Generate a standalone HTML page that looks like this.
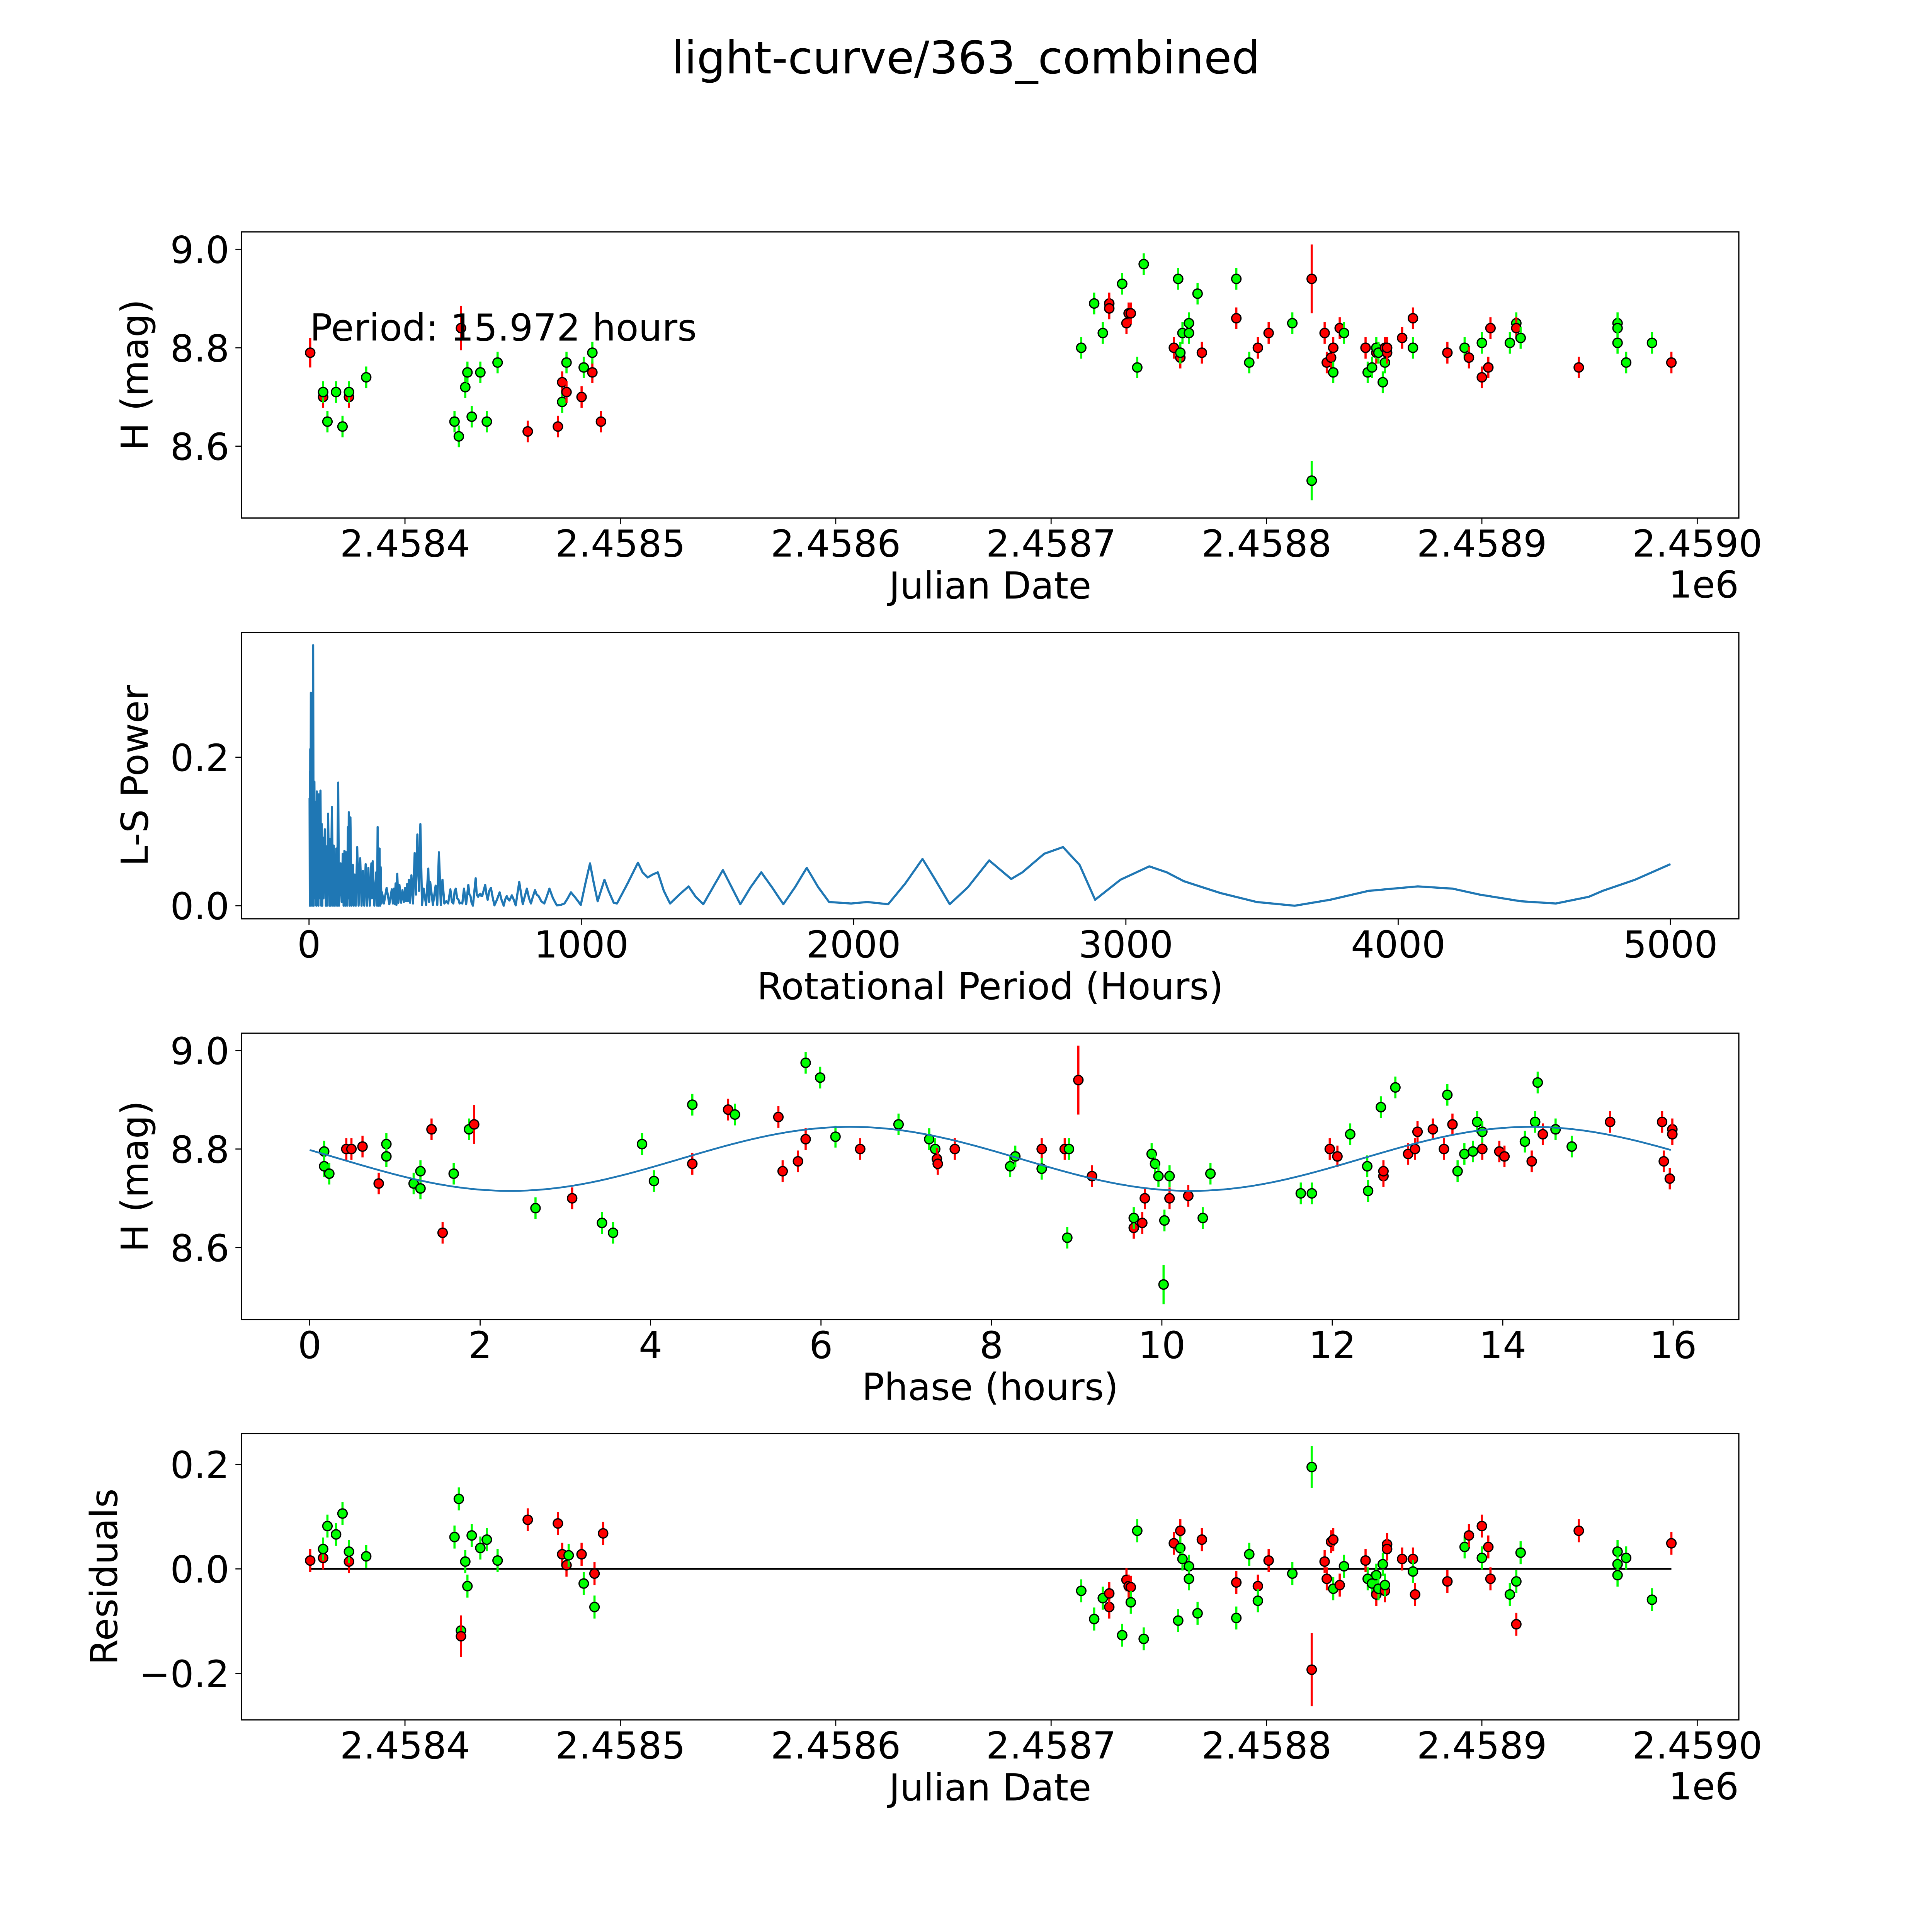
<!DOCTYPE html>
<html><head><meta charset="utf-8"><style>
html,body{margin:0;padding:0;background:#fff;width:100%;height:100%;overflow:hidden;}
svg{display:block;width:100vw;height:100vh;}
text{font-family:"DejaVu Sans","Liberation Sans",sans-serif;fill:#000;}
</style></head>
<body>
<svg id="fig" xmlns="http://www.w3.org/2000/svg" viewBox="0 0 5400 5400" preserveAspectRatio="xMidYMid meet">
<rect x="0" y="0" width="5400" height="5400" fill="#fff"/>
<text x="2700" y="205" font-size="126" text-anchor="middle">light-curve/363_combined</text>
<g id="p1"></g>
<g id="p2"></g>
<g id="p3"></g>
<g id="p4"></g>
</svg>
<script>
// ---- Panel 1: light curve (JD offset from 2458400) ----
const lcJd = [-44,-38,-38,-36,-32,-29,-26,-26,-18,23,25,26,28,29,31,35,38,43,57,71,73,73,75,75,82,83,87,87,91,
314,320,324,327,327,333,335,336,337,340,343,357,359,360,360,361,364,364,368,370,386,386,392,396,401,412,421,421,427,428,430,431,431,434,436,446,447,449,451,451,452,454,455,455,456,456,463,468,468,484,492,494,500,500,503,504,513,516,516,518,545,563,563,563,567,579,588];
const lcMag = [8.79,8.70,8.71,8.65,8.71,8.64,8.70,8.71,8.74,8.65,8.62,8.84,8.72,8.75,8.66,8.75,8.65,8.77,8.63,8.64,8.73,8.69,8.71,8.77,8.70,8.76,8.75,8.79,8.65,
8.80,8.89,8.83,8.89,8.88,8.93,8.85,8.87,8.87,8.76,8.97,8.80,8.94,8.78,8.79,8.83,8.85,8.83,8.91,8.79,8.94,8.86,8.77,8.80,8.83,8.85,8.94,8.53,8.83,8.77,8.78,8.75,8.80,8.84,8.83,8.80,8.75,8.76,8.79,8.80,8.79,8.73,8.80,8.77,8.79,8.80,8.82,8.86,8.80,8.79,8.80,8.78,8.74,8.81,8.76,8.84,8.81,8.85,8.84,8.82,8.76,8.85,8.84,8.81,8.77,8.81,8.77];
const lcBand = "rrggggrgg" + "ggrgggggg" + "rrrgrgrgrgr" +
  "gggrrgrrrg" + "grgrgggggr" + "grgrrgrgrr" + "rgrrgrggrg" + "ggrgrrrrgr" + "grrgrrggrg" + "rgggggr";
const lcBigErr = [[11,0.045],[55,0.07],[56,0.04],[0,0.03]];

// ---- Panel 2: Lomb-Scargle periodogram [period hours, power] ----
const lsPairs = [[2,0.145],[3,0],[3.5,0.181],[4,0],[4.5,0.211],[5.5,0.02],[6.8,0.287],[8,0.02],[10,0.2],[11,0],[15,0.351],[17,0],[19.6,0.167],[22,0.01],[25,0.14],[27,0],[28.7,0.154],[31,0.01],[33,0.12],[34.5,0],[36,0.15],[38,0.01],[42,0.155],[45,0],[47,0.11],[48.5,0],[50,0.092],[53,0.01],[58,0.103],[62,0],[64,0.08],[66,0],[70,0.124],[75,0],[78,0.09],[80,0],[84,0.133],[88,0],[91,0.081],[95,0],[100,0.077],[103,0],[107,0.166],[110,0],[116,0.057],[120,0.005],[124,0.07],[127,0],[130,0.074],[133,0],[136,0.072],[140,0],[143,0.106],[144.5,0.01],[146,0.126],[149,0],[152,0.119],[156,0],[161,0.055],[164,0],[168,0.042],[172,0],[177,0.079],[182,0],[186,0.055],[188,0.064],[193,0],[198,0.047],[203,0],[208,0.056],[213,0],[218,0.051],[223,0],[229,0.057],[231,0.01],[234,0.06],[240,0],[247,0.045],[250,0],[252,0.106],[255,0],[259,0.077],[261,0],[263,0.052],[266,0.003],[268,0.018],[275,0.003],[285,0.024],[295,0.002],[304,0.022],[308,0.003],[312,0.023],[315,0.002],[318,0.03],[321,0.001],[324,0.043],[328,0.004],[332,0.028],[338,0.004],[343,0.021],[348,0.005],[353,0.024],[356,0.006],[360,0.029],[363,0.006],[367,0.035],[371,0.004],[376,0.041],[382,0.003],[388,0.071],[393,0.015],[398,0.096],[404,0.02],[409,0.11],[415,0.001],[421,0.023],[430,0.001],[438,0.05],[441,0.005],[445,0.032],[455,0.001],[465,0.027],[471,0.001],[477,0.072],[484,0.001],[490,0.035],[497,0.003],[504,0.006],[511,0.003],[519,0.022],[525,0.005],[530,0.003],[535,0.02],[539,0.023],[544,0.01],[549,0.008],[553,0.003],[557,0.004],[563,0.003],[569,0.023],[577,0.002],[585,0.028],[589,0.015],[593,0.013],[597,0.004],[602,0.0],[612,0.037],[616,0.015],[621,0.012],[625,0.015],[630,0.016],[633,0.013],[636,0.013],[641,0.02],[647,0.028],[652,0.015],[656,0.008],[662,0.02],[668,0.024],[674,0.012],[681,0.0005],[690,0.008],[700,0.018],[707,0.008],[715,0.0],[720,0.008],[726,0.013],[731,0.009],[736,0.007],[740,0.01],[745,0.014],[752,0.008],[759,0.0005],[765,0.015],[772,0.032],[778,0.018],[785,0.002],[792,0.012],[800,0.023],[808,0.01],[815,0.003],[822,0.012],[830,0.021],[836,0.015],[843,0.013],[853,0.006],[864,0.003],[873,0.012],[883,0.023],[896,0.01],[910,0.0005],[924,0.001],[938,0.003],[950,0.01],[962,0.018],[980,0.01],[998,0.001],[1015,0.03],[1032,0.057],[1046,0.03],[1060,0.006],[1072,0.02],[1085,0.035],[1100,0.02],[1119,0.004],[1131,0.003],[1170,0.03],[1208,0.058],[1225,0.045],[1244,0.038],[1262,0.042],[1281,0.045],[1303,0.02],[1326,0.003],[1360,0.015],[1394,0.026],[1420,0.012],[1448,0.002],[1484,0.025],[1520,0.048],[1552,0.025],[1584,0.002],[1622,0.025],[1661,0.045],[1700,0.025],[1742,0.002],[1785,0.025],[1828,0.051],[1870,0.025],[1910,0.005],[1950,0.004],[1991,0.003],[2050,0.005],[2127,0.002],[2190,0.03],[2253,0.063],[2300,0.035],[2353,0.002],[2420,0.025],[2498,0.061],[2540,0.048],[2579,0.036],[2620,0.045],[2700,0.07],[2769,0.079],[2830,0.055],[2887,0.008],[2980,0.035],[3086,0.053],[3150,0.045],[3213,0.033],[3280,0.025],[3348,0.017],[3480,0.005],[3620,0.0],[3750,0.008],[3891,0.02],[4072,0.026],[4200,0.023],[4299,0.015],[4450,0.006],[4579,0.003],[4700,0.012],[4751,0.02],[4870,0.035],[5000,0.056]];
const lsPeriods = lsPairs.map(p => p[0]);
const lsPowers = lsPairs.map(p => p[1]);

// ---- Panel 3: phase folded ----
const phPhase = [0.17,0.17,0.23,0.43,0.49,0.62,0.81,0.90,0.90,1.22,1.30,1.30,1.43,1.56,1.69,1.87,1.93,2.65,3.08,3.43,3.56,3.90,4.04,4.49,4.49,4.91,4.99,5.50,5.55,5.73,5.82,5.82,5.99,6.17,6.46,6.91,7.27,7.34,7.36,7.37,7.57,8.22,8.28,8.59,8.59,8.86,8.91,8.89,9.02,9.18,9.67,9.67,9.77,9.80,9.88,9.92,9.96,10.03,10.02,10.09,10.09,10.31,10.48,10.57,11.63,11.76,11.97,12.06,12.21,12.41,12.42,12.57,12.60,12.60,12.74,12.89,12.97,13.00,13.18,13.31,13.35,13.41,13.47,13.55,13.65,13.70,13.76,13.76,13.96,14.02,14.26,14.34,14.38,14.41,14.47,14.62,14.81,15.26,15.87,15.89,15.96,15.99,15.99];
const phMag = [8.795,8.765,8.75,8.80,8.80,8.805,8.73,8.81,8.785,8.73,8.72,8.755,8.84,8.63,8.75,8.84,8.85,8.68,8.70,8.65,8.63,8.81,8.735,8.77,8.89,8.88,8.87,8.865,8.755,8.775,8.82,8.975,8.945,8.825,8.80,8.85,8.82,8.80,8.78,8.77,8.80,8.765,8.785,8.80,8.76,8.80,8.80,8.62,8.94,8.745,8.64,8.66,8.65,8.70,8.79,8.77,8.745,8.655,8.525,8.70,8.745,8.705,8.66,8.75,8.71,8.71,8.80,8.785,8.83,8.765,8.715,8.885,8.745,8.755,8.925,8.79,8.80,8.835,8.84,8.80,8.91,8.85,8.755,8.79,8.795,8.855,8.80,8.835,8.795,8.785,8.815,8.775,8.855,8.935,8.83,8.84,8.805,8.855,8.855,8.775,8.74,8.84,8.83];
const phBand = "gggrrrrggg" + "ggrrggrgrg" + "gggrgrgrrr" + "rgggrgggrr" + "rggrgrggrr" + "rgrrgggggr" + "grggggrrgg" + "ggrrgrrrrr" + "grggggrgrr" + "grggrggrrr" + "rrr";
const phBigErr = [[48,0.07],[58,0.04],[16,0.04]];
const fitParams = [8.78, 0.065, 7.986, 4.35]; // mean, amplitude, half-period, phase offset

// ---- Panel 4: residuals ----
const rsJd = [-44,-38,-38,-36,-32,-29,-26,-26,-18,23,25,26,26,28,29,31,35,38,43,57,71,73,75,76,82,83,88,88,92,
314,320,324,327,327,333,335,336,337,337,340,343,357,359,360,360,361,364,364,368,370,386,386,392,396,396,401,412,421,421,427,428,430,431,431,434,436,446,447,449,451,451,452,454,455,455,456,456,463,468,468,469,484,492,494,500,500,503,504,513,516,516,518,545,563,563,563,567,579,588];
const rsVal = [0.016,0.021,0.038,0.082,0.066,0.106,0.014,0.033,0.024,0.061,0.134,-0.118,-0.129,0.014,-0.033,0.064,0.04,0.056,0.016,0.094,0.087,0.028,0.007,0.026,0.028,-0.028,-0.009,-0.073,0.068,
-0.042,-0.096,-0.056,-0.073,-0.047,-0.127,-0.021,-0.033,-0.035,-0.064,0.073,-0.134,0.049,-0.099,0.073,0.040,0.019,0.005,-0.019,-0.085,0.056,-0.094,-0.026,0.028,-0.033,-0.061,0.016,-0.009,0.195,-0.193,0.014,-0.019,0.052,0.056,-0.038,-0.031,0.005,0.016,-0.019,-0.028,-0.049,-0.012,-0.038,0.009,-0.042,-0.031,0.047,0.038,0.019,0.019,-0.005,-0.049,-0.024,0.042,0.064,0.082,0.021,0.042,-0.019,-0.049,-0.024,-0.106,0.031,0.073,0.033,0.009,-0.012,0.021,-0.059,0.049];
const rsBand = "rrggggrggg" + "ggrggggggr" + "rrrgrgrgr" +
  "gggrrgrrrg" + "ggrgrggggg" + "rgrgrgrggr" + "rrrrgrgrgg" + "rgggrgrrrr" + "grrgrrgrrg" + "grgrgggggr";
const rsBigErr = [[57,0.04],[58,0.07],[11,0.025],[12,0.04]];

const jdTicks = [0,100,200,300,400,500,600];
const jdTickLabels = ["2.4584","2.4585","2.4586","2.4587","2.4588","2.4589","2.4590"];
const magTicks = [8.6,8.8,9.0];
const magTickLabels = ["8.6","8.8","9.0"];
const lsXTicks = [0,1000,2000,3000,4000,5000];
const lsYTicks = [0.0,0.2];
const lsYTickLabels = ["0.0","0.2"];
const phTicks = [0,2,4,6,8,10,12,14,16];
const rsTicks = [-0.2,0.0,0.2];
const rsTickLabels = ["\u22120.2","0.0","0.2"];

const NS = "http://www.w3.org/2000/svg";
const L = 675, R = 4860;
function mk(tag, parent, attrs) {
  const e = document.createElementNS(NS, tag);
  for (const k in attrs) e.setAttribute(k, attrs[k]);
  parent.appendChild(e);
  return e;
}
function scale(d0, d1, r0, r1) { return v => r0 + (v - d0) / (d1 - d0) * (r1 - r0); }

function axes(g, top, bot, sx, sy, xt, xl, yt, yl, xlabel, ylabel, ylabX, offsetText) {
  const f = mk("rect", g, {x: L, y: top, width: R - L, height: bot - top, fill: "none", stroke: "#000", "stroke-width": 3.5});
  
  
  xt.forEach((v, i) => {
    const x = sx(v);
    const t = mk("line", g, {x1: x, x2: x, y1: bot, y2: bot + 17, stroke: "#000", "stroke-width": 3});
    
    
    const tx = mk("text", g, {x: x, y: bot + 108, "font-size": 104, "text-anchor": "middle"});
    tx.textContent = xl[i];
    
    
  });
  yt.forEach((v, i) => {
    const y = sy(v);
    const t = mk("line", g, {x1: L - 17, x2: L, y1: y, y2: y, stroke: "#000", "stroke-width": 3});
    
    
    const tx = mk("text", g, {x: L - 34, y: y + 38, "font-size": 104, "text-anchor": "end"});
    tx.textContent = yl[i];
    
    
  });
  const xlab = mk("text", g, {x: (L + R) / 2, y: bot + 225, "font-size": 104, "text-anchor": "middle"});
  xlab.textContent = xlabel;
  
  
  const cy = (top + bot) / 2;
  const ylab = mk("text", g, {x: ylabX, y: cy, "font-size": 104, "text-anchor": "middle", transform: "rotate(-90 " + ylabX + " " + cy + ")"});
  ylab.textContent = ylabel;
  
  
  if (offsetText) {
    const o = mk("text", g, {x: R, y: bot + 222, "font-size": 104, "text-anchor": "end"});
    o.textContent = offsetText;
    
    
  }
}

function points(g, xs, ys, bands, sx, sy, big, defErr) {
  xs.forEach((xv, i) => {
    let err = defErr;
    big.forEach(b => { if (b[0] === i) err = b[1]; });
    const col = bands[i] === 'r' ? "#ff0000" : "#00ff00";
    const x = sx(xv), y = sy(ys[i]);
    const e = mk("line", g, {x1: x, x2: x, y1: sy(ys[i] - err), y2: sy(ys[i] + err), stroke: col, "stroke-width": 6});
    
    
    const c = mk("circle", g, {cx: x, cy: y, r: 13, fill: col, stroke: "#000", "stroke-width": 3.5});
    
    
  });
}

// Panel 1
(function(){
  const g = document.getElementById("p1");
  const top = 648, bot = 1448;
  const sx = scale(-75.9, 619.3, L, R), sy = scale(8.454, 9.0356, bot, top);
  axes(g, top, bot, sx, sy, jdTicks, jdTickLabels, magTicks, magTickLabels, "Julian Date", "H (mag)", 413, "1e6");
  points(g, lcJd, lcMag, lcBand, sx, sy, lcBigErr, 0.022);
  const t = mk("text", g, {x: 866, y: 952, "font-size": 104});
  t.textContent = "Period: 15.972 hours";
  
  
})();

// Panel 2
(function(){
  const g = document.getElementById("p2");
  const top = 1768, bot = 2568;
  const sx = scale(-248, 5251, L, R), sy = scale(-0.0176, 0.368, bot, top);
  axes(g, top, bot, sx, sy, lsXTicks, lsXTicks.map(String), lsYTicks, lsYTickLabels, "Rotational Period (Hours)", "L-S Power", 413, null);
  const d = lsPeriods.map((p, i) => (i ? "L" : "M") + sx(p).toFixed(1) + " " + sy(lsPowers[i]).toFixed(1)).join(" ");
  const p = mk("path", g, {d: d, fill: "none", stroke: "#1f77b4", "stroke-width": 6, "stroke-linejoin": "round"});
  
  
})();

// Panel 3
(function(){
  const g = document.getElementById("p3");
  const top = 2888, bot = 3688;
  const sx = scale(-0.8, 16.77, L, R), sy = scale(8.454, 9.035, bot, top);
  axes(g, top, bot, sx, sy, phTicks, phTicks.map(String), magTicks, magTickLabels, "Phase (hours)", "H (mag)", 413, null);
  points(g, phPhase, phMag, phBand, sx, sy, phBigErr, 0.022);
  const pts = [];
  for (let k = 0; k <= 300; k++) {
    const ph = 15.972 * k / 300;
    const m = fitParams[0] + fitParams[1] * Math.sin(2 * Math.PI * (ph - fitParams[3]) / fitParams[2]);
    pts.push((k ? "L" : "M") + sx(ph).toFixed(1) + " " + sy(m).toFixed(1));
  }
  const p = mk("path", g, {d: pts.join(" "), fill: "none", stroke: "#1f77b4", "stroke-width": 5});
  
  
})();

// Panel 4
(function(){
  const g = document.getElementById("p4");
  const top = 4007, bot = 4807;
  const sx = scale(-75.9, 619.3, L, R), sy = scale(-0.289, 0.259, bot, top);
  axes(g, top, bot, sx, sy, jdTicks, jdTickLabels, rsTicks, rsTickLabels, "Julian Date", "Residuals", 327, "1e6");
  const z = mk("line", g, {x1: sx(rsJd[0]), x2: sx(rsJd[rsJd.length - 1]), y1: sy(0), y2: sy(0), stroke: "#000", "stroke-width": 5});
  
  
  points(g, rsJd, rsVal, rsBand, sx, sy, rsBigErr, 0.022);
})();
</script>
</body></html>
